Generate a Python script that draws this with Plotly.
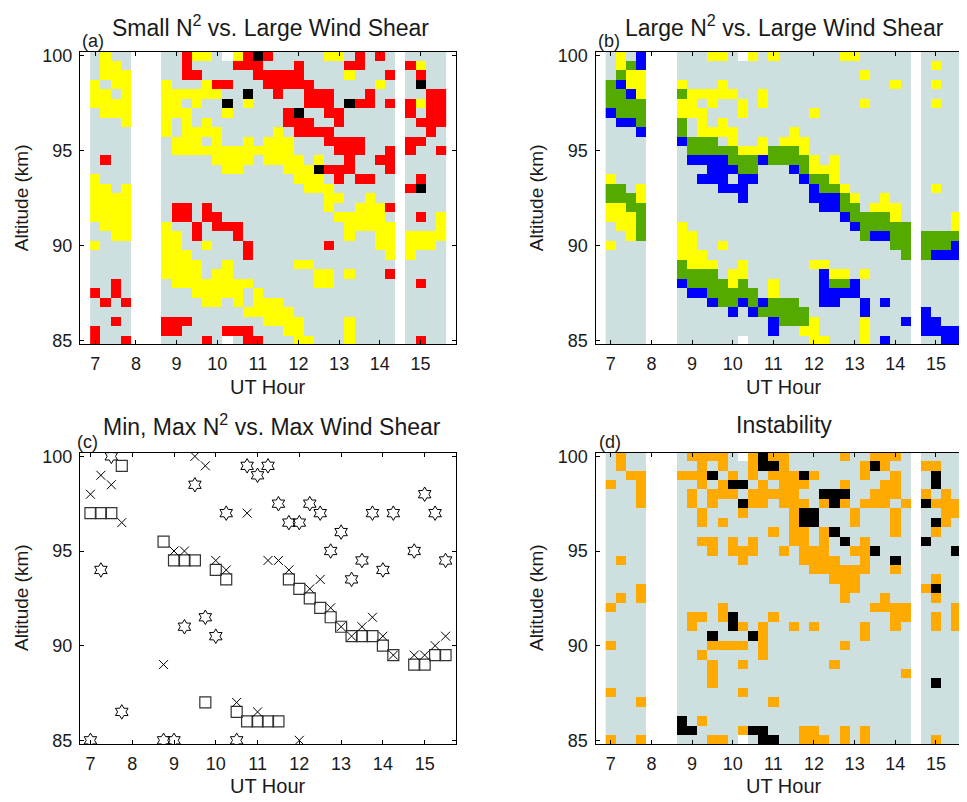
import plotly.graph_objects as go

# ---------------- data ----------------
HOURS = [7.0, 7.25, 7.5, 7.75, 8.0, 8.25, 8.5, 8.75, 9.0, 9.25, 9.5, 9.75,
         10.0, 10.25, 10.5, 10.75, 11.0, 11.25, 11.5, 11.75, 12.0, 12.25,
         12.5, 12.75, 13.0, 13.25, 13.5, 13.75, 14.0, 14.25, 14.5, 14.75,
         15.0, 15.25, 15.5]
ALTITUDES = [100.0, 99.5, 99.0, 98.5, 98.0, 97.5, 97.0, 96.5, 96.0, 95.5,
             95.0, 94.5, 94.0, 93.5, 93.0, 92.5, 92.0, 91.5, 91.0, 90.5,
             90.0, 89.5, 89.0, 88.5, 88.0, 87.5, 87.0, 86.5, 86.0, 85.5, 85.0]

# '.' = neither, '_' = no data; rows from 100 km down to 85 km
# (a) Y = small N^2, R = large shear, K = both
PANEL_A = [
    ".Y..|___|..RYY._YRKR|.....YY.R.R.|_|....",
    ".YY.|___|..R....RRR.|..R....RR...|_|RY..",
    ".YYY|___|..RR.....RR|RRR....Y...R|_|.R..",
    "Y.YY|___|Y...YRR...R|RRRR......Y.|_|.K..",
    "YY.Y|___|YYYYYY..K..|R..RRR...R..|_|..RR",
    "YYYY|___|YY.Y..K.Y..|...RRR.KRR.R|_|RYRR",
    ".YYY|___|YYY...Y....|.RK..RR.....|_|R.RR",
    "...Y|___|Y.Y.Y......|.RRR..R.....|_|.RRR",
    "....|___|Y.YYYY.....|Y.RRRR......|_|..R.",
    "....|___|.YYY.Y..Y.Y|YY...RRRR...|_|RR..",
    "....|___|.YYYYYYYYYY|YY....RRR..R|_|R..R",
    ".R..|___|.....YYYY.Y|YYY.Y..R..RR|_|....",
    "....|___|......YY...|.YYYKRRR...R|_|....",
    "Y...|___|...........|..YYY.R.RR..|_|.R..",
    "YY.Y|___|...........|...YYY......|_|RK..",
    "YYYY|___|...........|.....YY..Y..|_|....",
    "YYYY|___|.RR.R......|.....Y..YYYR|_|....",
    "YYYY|___|.RR.RR.....|......YYYYY.|_|.R.Y",
    ".YYY|___|Y..R.RRR...|.......YYYYY|_|...Y",
    "..YY|___|YY.R...R...|.......Y..YY|_|YYYY",
    "Y...|___|YY..Y...R..|.....R....YY|_|YYY.",
    "....|___|YYY.....R..|...........Y|_|Y...",
    "....|___|YYYY..Y....|..YY........|_|....",
    "....|___|YYYY.YY....|....YY.Y...R|_|....",
    "..R.|___|.YYYYYYYY..|....YY......|_|.R..",
    "R.R.|___|...YYYYY.Y.|............|_|....",
    ".R.R|___|....YY.Y.YY|Y...........|_|....",
    "....|___|........YYY|YY..........|_|....",
    "..R.|___|RRR.......Y|YYY....Y....|_|....",
    "R...|___|RR....RRR..|.YY....Y....|_|....",
    "R..R|___|....R._.RR.|..YY...Y....|_|.R..",
]
# (b) Y = large N^2, B = large shear, G = both
PANEL_B = [
    ".Y.B|___|...YY._Y.Y.|.....YY.....|_|....",
    ".YGB|___|...........|............|_|.Y..",
    ".GYY|___|...........|.......Y....|_|....",
    "GBYY|___|Y...Y......|..........Y.|_|.Y..",
    "GGBY|___|GYYYYY..Y..|............|_|....",
    "GGGG|___|YY.Y..Y.Y..|.......Y....|_|.Y..",
    "BGGG|___|YYY...Y....|..Y.........|_|....",
    ".BBG|___|G.Y.Y......|............|_|....",
    "...B|___|G.YYYY.....|Y...........|_|....",
    "....|___|BGGG.Y..Y.Y|YY..........|_|....",
    "....|___|.GGGGGYYYGG|GY..........|_|....",
    "....|___|.BBBBGGGBGG|GGY.Y.......|_|....",
    "....|___|...BBBGG...|BGYYY.......|_|....",
    "Y...|___|..BBB.BB...|.BGGY.......|_|....",
    "GG.Y|___|....BBB....|..BGGY......|_|.Y..",
    "GGGY|___|......B....|..BBBGY..Y..|_|....",
    "YYGG|___|...........|...BBGG.YYY.|_|....",
    "YYYG|___|...........|.....BGGGGY.|_|...Y",
    ".YYG|___|Y..........|......BGGGGG|_|...Y",
    "..YG|___|YY.........|.......GBBGG|_|GGGG",
    "Y...|___|YY..Y......|..........GG|_|GGGB",
    "....|___|YYY........|...........G|_|GBBB",
    "....|___|GYYY..Y....|..YY........|_|....",
    "....|___|GGGG.YY....|...BYY.Y....|_|....",
    "....|___|BGGGGYG..Y.|...BGGB.....|_|....",
    "....|___|.BBGGGGG.Y.|...BBBB.....|_|....",
    "....|___|...BGGBGBGG|G..BB..B.B..|_|....",
    "....|___|.....B.BGGG|GG.....B....|_|B...",
    "....|___|.........BG|GGY....Y...B|_|BB..",
    "....|___|.........B.|.YY....Y....|_|BBBB",
    "....|___|......_....|..YY...Y.B..|_|..BB",
]
# (d) O = unstable, K = strongly unstable
PANEL_D = [
    ".O..|___|.OOOO._OKOO|.....O..OOO.|_|....",
    ".O..|___|..O.O..OKKO|.......OKO..|_|OO..",
    "..OO|___|OOOK.O.O.OO|OKO....O..O.|_|.K..",
    "O..O|___|..O.OKK.O.O|OO...O...OO.|_|.K..",
    "...O|___|.O.OOO.OOOO|O..KKK..OOO.|_|O.O.",
    "...O|___|.O.O..KOO.O|OO.OKO.OOO.O|_|KOOO",
    "....|___|..O...O....|OKK...O...O.|_|..OO",
    "....|___|..O.O......|OKK...O...O.|_|.KO.",
    "....|___|.........O.|OO.OK.....O.|_|.O..",
    "....|___|..OO.O.O...|OO.O.K.O....|_|K...",
    "....|___|...O.OOO..O|.OOO..OOK...|_|...K",
    ".O..|___|......O....|.OOOO..O..K.|_|....",
    "....|___|...........|..OOOOOO..O.|_|....",
    "....|___|...........|....OOO.....|_|.O..",
    "...O|___|...........|.....OO.....|_|OK..",
    ".O.O|___|...........|.....O...O..|_|.O..",
    "O...|___|....O......|........OOOO|_|...O",
    "....|___|.OO.OK...O.|..........OO|_|.O.O",
    "....|___|.O...KO.O..|O.O....O..O.|_|.O.O",
    "....|___|...K...KO..|.......O....|_|....",
    "O...|___|...OOOO.O..|.....O......|_|....",
    "....|___|..O.....O..|............|_|....",
    "....|___|...O..O....|....O.......|_|....",
    "....|___|...O.......|...........O|_|....",
    "....|___|...O.......|............|_|.K..",
    "O...|___|......O....|............|_|....",
    "...O|___|.........O.|............|_|....",
    "....|___|...........|............|_|....",
    "....|___|K.O........|............|_|....",
    "....|___|KK....OKK..|.OO..O.O....|_|....",
    "O..O|___|...OO._.KK.|.OOO.O.O....|_|.O..",
]

# (c) scatter: min N^2 (squares), max N^2 (hexagrams), max shear (crosses)
C_HOURS = [7.0, 7.25, 7.5, 7.75, 8.75, 9.0, 9.25, 9.5, 9.75, 10.0, 10.25,
           10.5, 10.75, 11.0, 11.25, 11.5, 11.75, 12.0, 12.25, 12.5, 12.75,
           13.0, 13.25, 13.5, 13.75, 14.0, 14.25, 14.75, 15.0, 15.25, 15.5]
MIN_N2_ALT = [97, 97, 97, 99.5, 95.5, 94.5, 94.5, 94.5, 87, 94, 93.5, 86.5,
              86, 86, 86, 86, 93.5, 93, 92.5, 92, 91.5, 91, 90.5, 90.5, 90.5,
              90, 89.5, 89, 89, 89.5, 89.5]
MAX_N2_ALT = [85, 94, 100, 86.5, 85, 85, 91, 98.5, 91.5, 90.5, 97, 85, 99.5,
              99, 99.5, 97.5, 96.5, 96.5, 97.5, 97, 95, 96, 93.5, 94.5, 97,
              94, 97, 95, 98, 97, 94.5]
MAX_SHEAR_ALT = [98, 99, 98.5, 96.5, 89, 95, 95, 100, 99.5, 94.5, 94, 87, 97,
                 86.5, 94.5, 94.5, 94, 85, 93, 93.5, 92, 91, 90.5, 91, 91.5,
                 90.5, 89.5, 89.5, 89.5, 90, 90.5]

TITLES = ["Small N<sup>2</sup> vs. Large Wind Shear",
          "Large N<sup>2</sup> vs. Large Wind Shear",
          "Min, Max N<sup>2</sup> vs. Max Wind Shear",
          "Instability"]
LABELS = ["(a)", "(b)", "(c)", "(d)"]
X_TICKS = [7, 8, 9, 10, 11, 12, 13, 14, 15]
Y_TICKS = [85, 90, 95, 100]

# ---------------- styling ----------------
GRAY = "#cedfdf"
OFF = 8                      # page body margin of the browser
W, H = 967 - OFF, 802 - OFF  # figure size so that it ends at the window edge
FONT = "Liberation Sans, Arial, Helvetica, sans-serif"
TXT = "#1a1a1a"


def px(x):
    return (x - OFF) / W


def py(y):
    return 1 - (y - OFF) / H


def grid(rows, codes):
    out = []
    for row in rows:
        s = row.replace("|", "")
        out.append([codes.get(ch) for ch in s])
    return out


def discrete(colors):
    n = len(colors)
    cs = []
    for i, c in enumerate(colors):
        cs.append([i / n, c])
        cs.append([(i + 1) / n, c])
    return cs


fig = go.Figure()

panels = [
    (PANEL_A, {".": 0, "Y": 1, "R": 2, "K": 3}, [GRAY, "#ffff00", "#ff0000", "#000000"], "x", "y"),
    (PANEL_B, {".": 0, "Y": 1, "B": 2, "G": 3}, [GRAY, "#ffff00", "#0000ff", "#55aa00"], "x2", "y2"),
    (PANEL_D, {".": 0, "O": 1, "K": 2}, [GRAY, "#ffaa00", "#000000"], "x4", "y4"),
]
for rows, codes, colors, xa, ya in panels:
    fig.add_trace(go.Heatmap(
        z=grid(rows, codes), x=HOURS, y=ALTITUDES,
        colorscale=discrete(colors), zmin=-0.5, zmax=len(colors) - 0.5,
        showscale=False, hoverinfo="skip", xaxis=xa, yaxis=ya))

fig.add_trace(go.Scatter(x=C_HOURS, y=MAX_N2_ALT, mode="markers", xaxis="x3", yaxis="y3",
                         marker=dict(symbol="hexagram-open", size=11, color="#000000",
                                     line=dict(width=1, color="#000000"))))
fig.add_trace(go.Scatter(x=C_HOURS, y=MIN_N2_ALT, mode="markers", xaxis="x3", yaxis="y3",
                         marker=dict(symbol="square-open", size=11, color="#333333",
                                     line=dict(width=1.2, color="#333333"))))
fig.add_trace(go.Scatter(x=C_HOURS, y=MAX_SHEAR_ALT, mode="markers", xaxis="x3", yaxis="y3",
                         marker=dict(symbol="x-thin", size=9, color="#000000",
                                     line=dict(width=1, color="#000000"))))

# panel geometry in window pixels
L_LEFT, L_RIGHT = 80, 456
R_LEFT, R_RIGHT = 595.5, 967
T_TOP, T_BOT = 46.7, 343.3
B_TOP, B_BOT = 453.3, 749.3
px_per_h = (L_RIGHT - L_LEFT) / 9.25
geom = {
    "": (L_LEFT, L_RIGHT, T_TOP, T_BOT, [6.625, 15.875], True),
    "2": (R_LEFT, R_RIGHT, T_TOP, T_BOT, [6.625, 6.625 + (R_RIGHT - R_LEFT) / px_per_h], False),
    "3": (L_LEFT, L_RIGHT, B_TOP, B_BOT, [6.75, 15.75], True),
    "4": (R_LEFT, R_RIGHT, B_TOP, B_BOT, [6.625, 6.625 + (R_RIGHT - R_LEFT) / px_per_h], False),
}
layout = dict(width=W, height=H, margin=dict(l=0, r=0, t=0, b=0),
              paper_bgcolor="white", plot_bgcolor="white", showlegend=False,
              font=dict(family=FONT, size=18, color=TXT))
for k, (l, r, t, b, xr, ymir) in geom.items():
    layout["xaxis" + k] = dict(
        domain=[px(l), min(1.0, px(r))], range=xr, anchor="y" + k, tickvals=X_TICKS,
        ticks="inside", ticklen=4, tickcolor="black", showline=True, linecolor="black",
        linewidth=1, mirror="ticks", showgrid=False, zeroline=False, ticklabelstandoff=3,
        tickfont=dict(size=18, family=FONT, color=TXT), layer="above traces")
    layout["yaxis" + k] = dict(
        domain=[py(b), py(t)], range=[84.8, 100.2], anchor="x" + k, tickvals=Y_TICKS,
        ticks="inside", ticklen=4, tickcolor="black", showline=True, linecolor="black",
        linewidth=1, mirror="ticks" if ymir else False, showgrid=False, zeroline=False,
        ticklabelstandoff=3,
        tickfont=dict(size=18, family=FONT, color=TXT), layer="above traces")

ann = []
# (title cx, title cy, label x, label y, panel bottom, panel middle)
centers = [(270, 20, 80, 35, T_BOT, 195), (784, 20, 596, 35, T_BOT, 195),
           (272, 425, 75, 443, B_BOT, 601), (784, 425, 597, 443, B_BOT, 601)]
for i, (cx, cy, lx, ly, bot, my) in enumerate(centers):
    ann.append(dict(text=TITLES[i], x=px(cx), y=py(cy), xref="paper", yref="paper",
                    showarrow=False, xanchor="center", yanchor="middle",
                    font=dict(size=23, family=FONT, color=TXT)))
    ann.append(dict(text=LABELS[i], x=px(lx), y=py(ly), xref="paper", yref="paper",
                    showarrow=False, xanchor="left", yanchor="middle",
                    font=dict(size=18, family=FONT, color=TXT)))
    ann.append(dict(text="UT Hour", x=px(cx if i % 2 else 268), y=py(bot + 43),
                    xref="paper", yref="paper",
                    showarrow=False, xanchor="center", yanchor="middle",
                    font=dict(size=20, family=FONT, color=TXT)))
    ax = 21 if i in (0, 2) else 536
    ann.append(dict(text="Altitude (km)", x=px(ax), y=py(my), xref="paper", yref="paper",
                    showarrow=False, xanchor="center", yanchor="middle", textangle=-90,
                    font=dict(size=19, family=FONT, color=TXT)))
layout["annotations"] = ann
fig.update_layout(**layout)
fig.write_html("out.html")
